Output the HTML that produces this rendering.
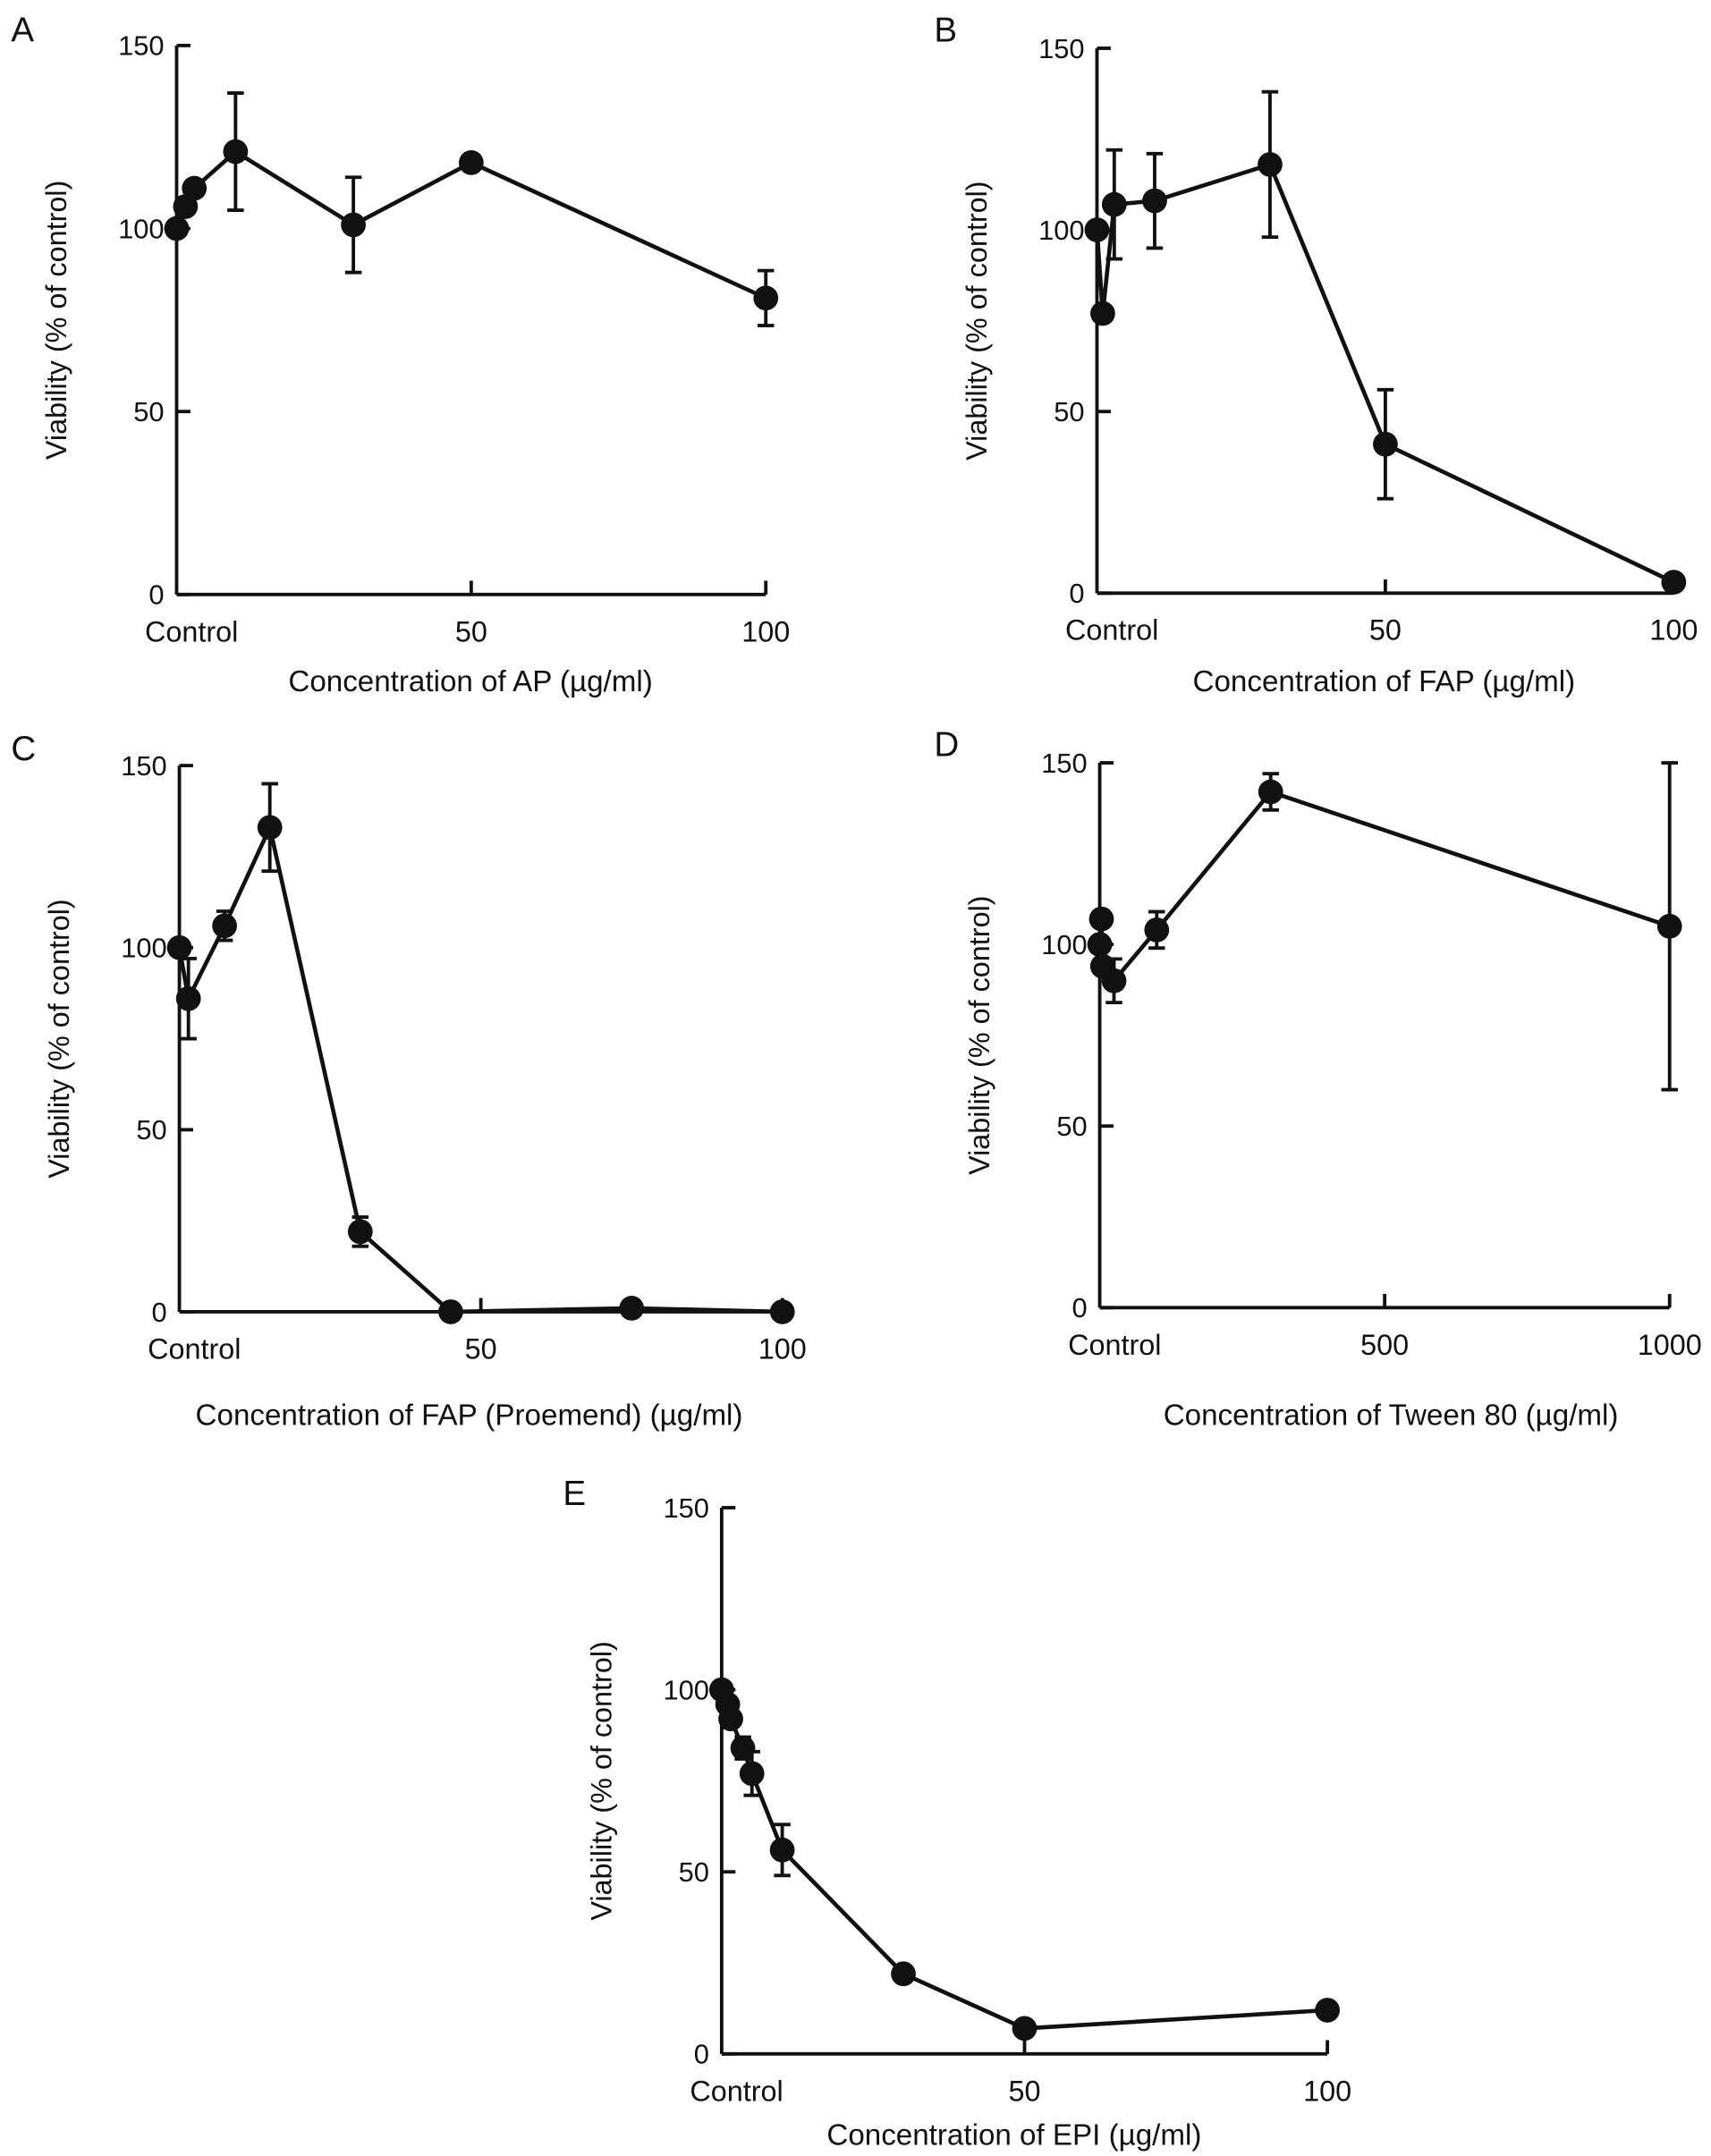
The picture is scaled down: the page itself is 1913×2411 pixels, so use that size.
<!DOCTYPE html>
<html><head><meta charset="utf-8"><style>
html,body{margin:0;padding:0;background:#fff}
svg{display:block}
text{font-family:"Liberation Sans",Arial,sans-serif;fill:#111}
</style></head><body>
<svg id="fig" width="1913" height="2411" viewBox="0 0 1240 1563" preserveAspectRatio="none" xmlns="http://www.w3.org/2000/svg"></svg>
<script>
// Panel A
const aX=[0,1.5,3,10,30,50,100];
const aY=[100,106,111,121,101,118,81];
const aE=[0,2,2,16,13,0,7.5];
// Panel B
const bX=[0,1,3,10,30,50,100];
const bY=[100,77,107,108,118,41,3];
const bE=[0,0,15,13,20,15,0];
// Panel C
const cX=[0,1.5,7.5,15,30,45,75,100];
const cY=[100,86,106,133,22,0,1,0];
const cE=[0,11,4,12,4,0,0,0];
// Panel D
const dX=[0,3,5,25,100,300,1000];
const dY=[100,107,94,90,104,142,105];
const dE=[0,0,0,6,5,5,45];
// Panel E
const eX=[0,1,1.5,3.5,5,10,30,50,100];
const eY=[100,96,92,84,77,56,22,7,12];
const eE=[0,0,0,3,6,7,0,0,0];
const yTicks=[0,50,100,150];

const NS="http://www.w3.org/2000/svg";
const svg=document.getElementById('fig');
function el(tag,attrs,parent,txt){const e=document.createElementNS(NS,tag);for(const k in attrs)e.setAttribute(k,attrs[k]);if(txt!==undefined)e.textContent=txt;(parent||svg).appendChild(e);return e;}

function panel(id,letter,lx,ly,ax,y0,y150,xmax,x1,xs,ys,es,xticks,xlabels,title,titleY,titleX){
  const g=el('g',{});
  
  
  const sx=v=>ax+(x1-ax)*v/xmax;
  const sy=v=>y0+(y150-y0)*v/150;
  const L=el('text',{x:lx,y:ly,'font-size':25},g,letter);
  
  const ya=el('line',{x1:ax,y1:y0,x2:ax,y2:y150,stroke:'#111','stroke-width':2.5},g);
  
  const xa=el('line',{x1:ax,y1:y0,x2:x1,y2:y0,stroke:'#111','stroke-width':2.5},g);
  
  yTicks.forEach(t=>{
    el('line',{x1:ax,y1:sy(t),x2:ax+10,y2:sy(t),stroke:'#111','stroke-width':2.5},g);
    const tl=el('text',{x:ax-9,y:sy(t)+7,'font-size':20,'text-anchor':'end'},g,t);
    
  });
  xticks.forEach((t,i)=>{
    if(i>0)el('line',{x1:sx(t),y1:y0,x2:sx(t),y2:y0-10,stroke:'#111','stroke-width':2.5},g);
    const tl=el('text',{x:i==0?ax-23:sx(t),y:y0+34,'font-size':21,'text-anchor':i==0?'start':'middle'},g,xlabels[i]);
    
  });
  const yt=el('text',{x:0,y:0,'font-size':21,'text-anchor':'middle',transform:`translate(${ax-80},${(y0+y150)/2}) rotate(-90)`},g,'Viability (% of control)');
  
  const xt=el('text',{x:titleX,y:titleY,'font-size':21.5,'text-anchor':'middle'},g,title);
  
  const pts=xs.map((x,i)=>sx(x)+','+sy(ys[i])).join(' ');
  const ln=el('polyline',{points:pts,fill:'none',stroke:'#111','stroke-width':3},g);
  
  xs.forEach((x,i)=>{
    if(es[i]>0){
      const cx=sx(x),t=sy(ys[i]+es[i]),b=sy(ys[i]-es[i]);
      const eb=el('path',{d:`M${cx},${t}V${b}M${cx-6},${t}H${cx+6}M${cx-6},${b}H${cx+6}`,stroke:'#111','stroke-width':2.5,fill:'none'},g);
      
    }
    const c=el('circle',{cx:sx(x),cy:sy(ys[i]),r:9,fill:'#111'},g);
    
  });
}
panel('a','A',8,30,128,431,33,100,555,aX,aY,aE,[0,50,100],['Control','50','100'],'Concentration of AP (µg/ml)',501,341);
panel('b','B',677,30,795,430,35,100,1213,bX,bY,bE,[0,50,100],['Control','50','100'],'Concentration of FAP (µg/ml)',501,1003);
panel('c','C',8,551,130,951,555,100,567,cX,cY,cE,[0,50,100],['Control','50','100'],'Concentration of FAP (Proemend) (µg/ml)',1033,340);
panel('d','D',677,548,797,948,553,1000,1210,dX,dY,dE,[0,500,1000],['Control','500','1000'],'Concentration of Tween 80 (µg/ml)',1033,1008);
panel('e','E',408,1091,523,1489,1093,100,962,eX,eY,eE,[0,50,100],['Control','50','100'],'Concentration of EPI (µg/ml)',1555,735);
</script>
</body></html>
